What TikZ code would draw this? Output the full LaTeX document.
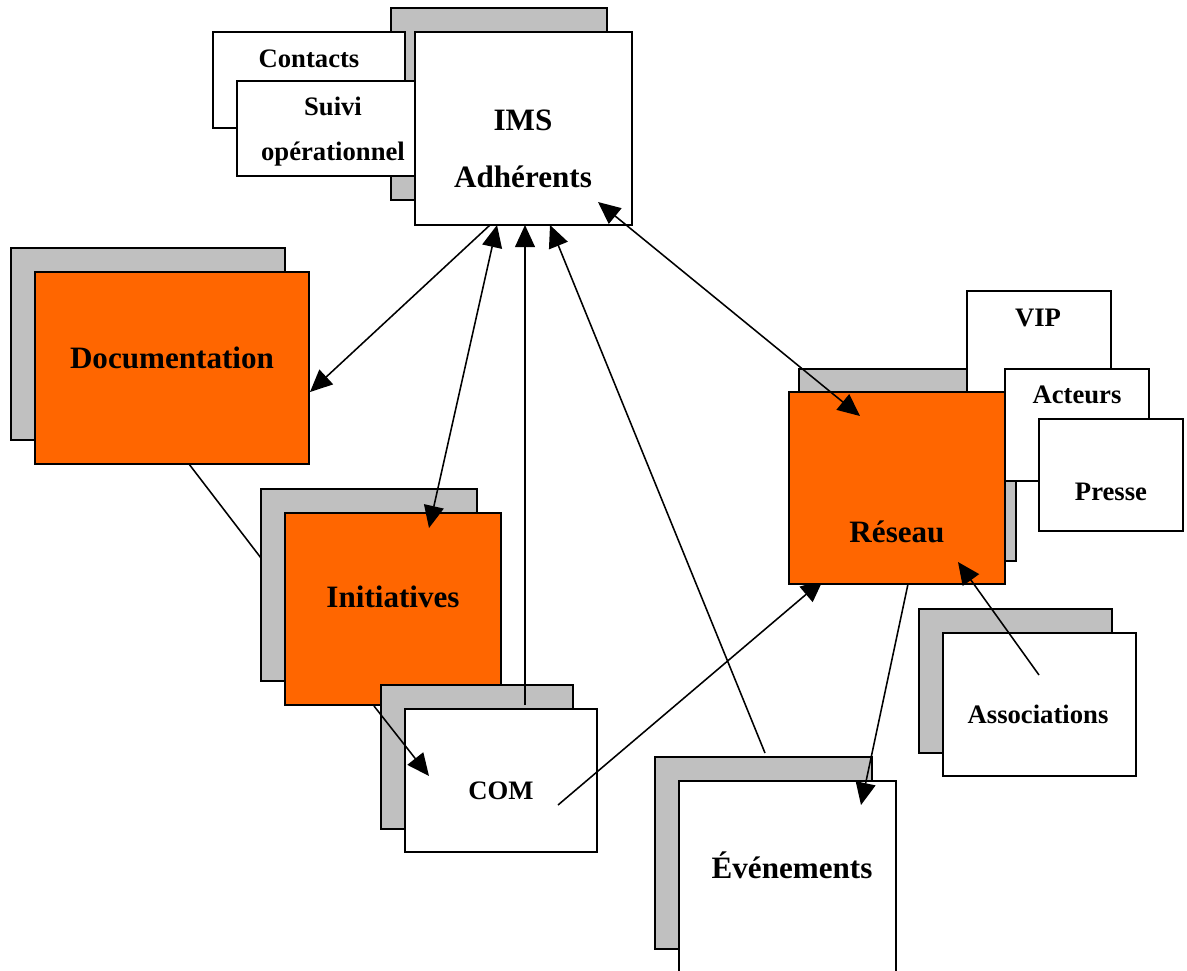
\documentclass[tikz,border=0pt]{standalone}
\usepackage{fontspec}
\setmainfont{Liberation Serif}
\usetikzlibrary{arrows.meta,fit}

\definecolor{boxorange}{HTML}{FF6600}
\definecolor{shadowgray}{HTML}{C0C0C0}

\tikzset{
    shadowbox/.style={draw, fill=shadowgray, line width=0.9pt, inner sep=0pt},
    whitebox/.style={draw, fill=white, line width=0.9pt, inner sep=0pt},
    orangebox/.style={draw, fill=boxorange, line width=0.9pt, inner sep=0pt},
    bigtext/.style={font=\fontsize{14}{25.5}\selectfont\bfseries, align=center, inner sep=0pt},
    smalltext/.style={font=\fontsize{12}{20.3}\selectfont\bfseries, align=center, inner sep=0pt},
    link/.style={line width=0.7pt},
    tip/.style={line width=0.7pt, -{Triangle[length=10pt,width=9pt]}},
    tips/.style={line width=0.7pt, {Triangle[length=10pt,width=9pt]}-{Triangle[length=10pt,width=9pt]}}
}

\begin{document}
\begin{tikzpicture}[x=0.45pt, y=-0.45pt]
        \useasboundingbox (0,0) rectangle (1187,970);
        % Documentation
        \node [shadowbox, fit={(11,248) (285,440)}] (doc-shadow) {};
        \node [orangebox, fit={(35,272) (309,464)}] (doc) {};
        \node [bigtext] (doc-label) at (172,358) {Documentation};
        \coordinate (doc-in) at (310,392);
        \coordinate (doc-out) at (189,464);
        % Initiatives
        \coordinate (ini-edge) at (261,558);
        \draw [link] (doc-out) -- (ini-edge);
        \node [shadowbox, fit={(261,489) (477,681)}] (ini-shadow) {};
        \node [orangebox, fit={(285,513) (501,705)}] (ini) {};
        \node [bigtext] (ini-label) at (393,597) {Initiatives};
        \coordinate (ini-in) at (429,528);
        \coordinate (ini-out) at (374,706);
        % COM
        \node [shadowbox, fit={(381,685) (573,829)}] (com-shadow) {};
        \coordinate (com-up) at (525,705);
        \coordinate (com-in) at (429,776);
        \coordinate (com-out) at (558,805);
        \node [whitebox, fit={(405,709) (597,852)}] (com) {};
        \node [smalltext] (com-label) at (501,791) {COM};
        % IMS Adherents
        \node [shadowbox, fit={(391,8) (607,200)}] (ims-shadow) {};
        \node [whitebox, fit={(213,32) (405,128)}] (contacts) {};
        \node [smalltext] (contacts-label) at (309,59) {Contacts};
        \node [whitebox, fit={(237,81) (415,176)}] (suivi) {};
        \node [smalltext] (suivi-label) at (333,132) {Suivi\\op\'erationnel};
        \node [whitebox, fit={(415,32) (632,225)}] (ims) {};
        \node [bigtext] (ims-label) at (523,149) {IMS\\Adh\'erents};
        \coordinate (ims-a) at (490,225);
        \coordinate (ims-b) at (497,225);
        \coordinate (ims-c) at (525,225);
        \coordinate (ims-d) at (550,225);
        \coordinate (ims-e) at (598,202);
        % Reseau
        \node [shadowbox, fit={(799,369) (1016,561)}] (res-shadow) {};
        \node [whitebox, fit={(967,291) (1111,392)}] (vip) {};
        \node [smalltext] (vip-label) at (1038,318) {VIP};
        \node [whitebox, fit={(1005,369) (1149,481)}] (acteurs) {};
        \node [smalltext] (acteurs-label) at (1077,395) {Acteurs};
        \node [whitebox, fit={(1039,419) (1183,531)}] (presse) {};
        \node [smalltext] (presse-label) at (1111,492) {Presse};
        \coordinate (res-a) at (823,580);
        \draw [tip] (com-out) -- (res-a);
        \node [orangebox, fit={(789,392) (1005,584)}] (res) {};
        \node [bigtext] (res-label) at (897,532) {R\'eseau};
        \coordinate (res-b) at (860,416);
        \coordinate (res-c) at (958,562);
        \coordinate (res-out) at (908,584);
        % Associations
        \node [shadowbox, fit={(919,609) (1112,753)}] (asso-shadow) {};
        \node [whitebox, fit={(943,633) (1136,776)}] (asso) {};
        \node [smalltext] (asso-label) at (1038,714) {Associations};
        \coordinate (asso-out) at (1039,675);
        % Evenements
        \node [shadowbox, fit={(655,757) (872,949)}] (evt-shadow) {};
        \node [whitebox, fit={(679,781) (896,990)}] (evt) {};
        \node [bigtext] (evt-label) at (792,865) {\'Ev\'enements};
        \coordinate (evt-out) at (765,753);
        \coordinate (evt-in) at (861,805);
        % Connectors
        \draw [tip] (ims-a) -- (doc-in);
        \draw [tips] (ims-b) -- (ini-in);
        \draw [tip] (com-up) -- (ims-c);
        \draw [tip] (evt-out) -- (ims-d);
        \draw [tips] (ims-e) -- (res-b);
        \draw [tip] (ini-out) -- (com-in);
        \draw [tip] (res-out) -- (evt-in);
        \draw [tip] (asso-out) -- (res-c);
\end{tikzpicture}
\end{document}
